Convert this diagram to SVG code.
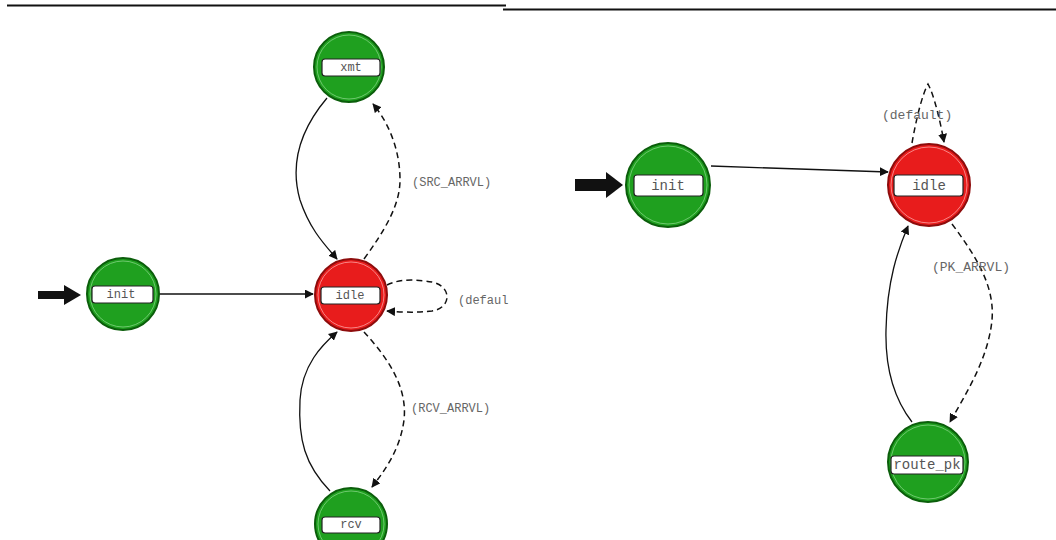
<svg xmlns="http://www.w3.org/2000/svg" width="1056" height="540" viewBox="0 0 1056 540">
  <style>
    .g { fill: #1fa01f; stroke: #0b5e0b; stroke-width: 2; }
    .r { fill: #e81c1c; stroke: #8e0c0c; stroke-width: 2; }
    .ring { fill: none; stroke-width: 1; stroke-opacity: 0.7; }
    .ring-g { stroke: #8fd88f; }
    .ring-r { stroke: #ffb0b0; }
    .lbl { fill: #ffffff; stroke: #222; stroke-width: 1.2; }
    .t { font-family: "Liberation Mono", "DejaVu Sans Mono", monospace; fill: #555; text-anchor: middle; dominant-baseline: central; }
    .s { font-size: 12px; }
    .m { font-size: 14px; }
    .cond { font-family: "Liberation Mono", "DejaVu Sans Mono", monospace; fill: #666; font-size: 12px; }
    .cond2 { font-family: "Liberation Mono", "DejaVu Sans Mono", monospace; fill: #666; font-size: 13px; }
    .solid { fill: none; stroke: #111; stroke-width: 1.3; }
    .dash { fill: none; stroke: #111; stroke-width: 1.5; stroke-dasharray: 6 4; }
  </style>
  <defs>
    <marker id="ah" viewBox="0 0 10 10" refX="9" refY="5" markerWidth="9" markerHeight="9" markerUnits="userSpaceOnUse" orient="auto">
      <path d="M0,0 L10,5 L0,10 z" fill="#111"/>
    </marker>
  </defs>

  <rect width="1056" height="540" fill="#ffffff"/>

  <!-- separator rules -->
  <line x1="7" y1="5.5" x2="506" y2="5.5" stroke="#111" stroke-width="2"/>
  <line x1="503" y1="9.5" x2="1056" y2="9.5" stroke="#111" stroke-width="2"/>

  <!-- transitions -->
  <g id="connectors">
    <!-- left model -->
    <path d="M38,295 H66" stroke="#111" stroke-width="8"/>
    <path d="M64,285 L81,295 L64,305 z" fill="#111"/>
    <path class="solid" d="M159,294 L313,294" marker-end="url(#ah)"/>
    <path class="solid" d="M327,98 C300,130 290,165 300,200 C310,230 325,245 337,259" marker-end="url(#ah)"/>
    <path class="dash" d="M364,259 C385,230 400,205 400,180 C400,145 385,118 373,104" marker-end="url(#ah)"/>
    <path class="dash" d="M387,285 C400,278 420,280 432,282 C452,286 452,308 432,311 C415,313 400,312 387,311" marker-end="url(#ah)"/>
    <path class="solid" d="M330,491 C305,465 298,440 300,400 C302,365 322,345 337,332" marker-end="url(#ah)"/>
    <path class="dash" d="M364,332 C385,355 408,385 404,420 C400,450 385,470 372,487" marker-end="url(#ah)"/>

    <!-- right model -->
    <path d="M575,185 H608" stroke="#111" stroke-width="12"/>
    <path d="M606,172 L623,185 L606,198 z" fill="#111"/>
    <path class="solid" d="M711,166 L888,172" marker-end="url(#ah)"/>
    <path class="dash" d="M912,143 C916,120 922,95 928,84 C934,95 940,120 944,142" marker-end="url(#ah)"/>
    <path class="dash" d="M952,224 C975,255 995,285 992,320 C988,360 965,395 950,422" marker-end="url(#ah)"/>
    <path class="solid" d="M912,422 C895,400 885,370 886,330 C887,280 898,250 908,226" marker-end="url(#ah)"/>
  </g>

  <!-- left model states -->
  <g id="xmt">
    <circle class="g" cx="349" cy="67" r="35"/>
    <circle class="ring ring-g" cx="349" cy="67" r="32"/>
    <rect class="lbl" x="322" y="59" width="58" height="17" rx="3"/>
    <text class="t s" x="351" y="67.5">xmt</text>
  </g>
  <g id="init-left">
    <circle class="g" cx="123" cy="294" r="36"/>
    <circle class="ring ring-g" cx="123" cy="294" r="33"/>
    <rect class="lbl" x="92" y="286" width="61" height="17" rx="3"/>
    <text class="t s" x="121" y="294.5">init</text>
  </g>
  <g id="idle-left">
    <circle class="r" cx="351" cy="295" r="36"/>
    <circle class="ring ring-r" cx="351" cy="295" r="33"/>
    <rect class="lbl" x="321" y="287" width="59" height="17" rx="3"/>
    <text class="t s" x="350" y="295.5">idle</text>
  </g>
  <g id="rcv">
    <circle class="g" cx="351" cy="524" r="36"/>
    <circle class="ring ring-g" cx="351" cy="524" r="33"/>
    <rect class="lbl" x="322" y="517" width="58" height="16" rx="3"/>
    <text class="t s" x="351" y="525">rcv</text>
  </g>

  <!-- left model conditions -->
  <text class="cond" x="412" y="186">(SRC_ARRVL)</text>
  <text class="cond" x="458" y="304">(defaul</text>
  <text class="cond" x="411" y="412">(RCV_ARRVL)</text>

  <!-- right model states -->
  <g id="init-right">
    <circle class="g" cx="668" cy="185" r="42"/>
    <circle class="ring ring-g" cx="668" cy="185" r="39"/>
    <rect class="lbl" x="634" y="175" width="69" height="21" rx="3"/>
    <text class="t m" x="668" y="186">init</text>
  </g>
  <g id="idle-right">
    <circle class="r" cx="929" cy="185" r="41"/>
    <circle class="ring ring-r" cx="929" cy="185" r="38"/>
    <rect class="lbl" x="894" y="175" width="69" height="21" rx="3"/>
    <text class="t m" x="929" y="186">idle</text>
  </g>
  <g id="route_pk">
    <circle class="g" cx="928" cy="462" r="40"/>
    <circle class="ring ring-g" cx="928" cy="462" r="37"/>
    <rect class="lbl" x="891" y="456" width="72" height="18" rx="3"/>
    <text class="t m" x="927" y="465" font-size="13.5">route_pk</text>
  </g>

  <!-- right model conditions -->
  <text class="cond2" x="882" y="119">(default)</text>
  <text class="cond2" x="932" y="271">(PK_ARRVL)</text>
</svg>
